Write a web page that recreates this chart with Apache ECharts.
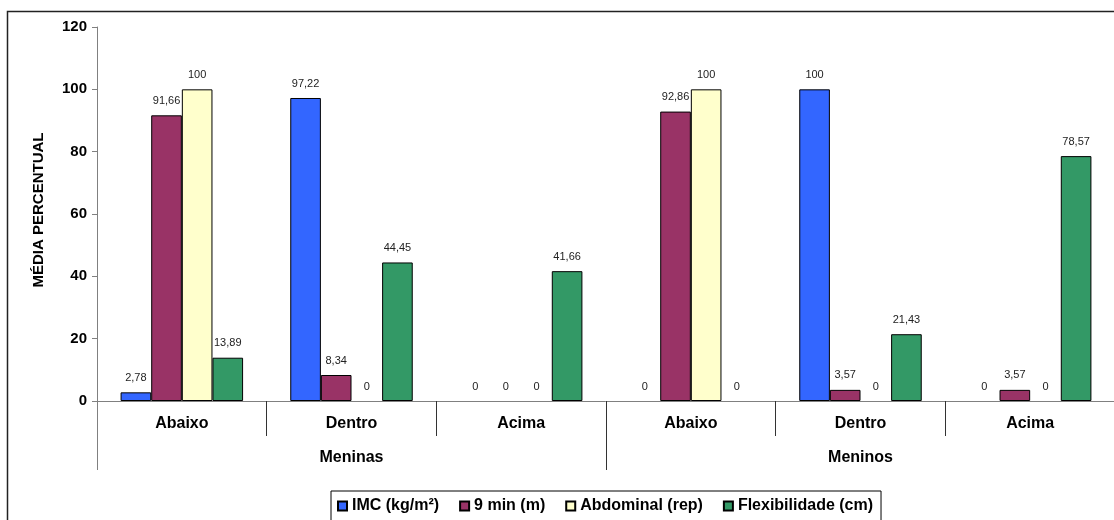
<!DOCTYPE html>
<html>
<head>
<meta charset="utf-8">
<script src="https://cdn.jsdelivr.net/npm/echarts@6/dist/echarts.min.js"></script>
<style>
  html, body { margin: 0; padding: 0; background: #fff; }
  #chart { width: 1114px; height: 520px; }
</style>
</head>
<body>
<div id="chart"></div>
<script>
// Classification categories (inner level) and sex groups (outer level)
const categories = ['Abaixo', 'Dentro', 'Acima', 'Abaixo', 'Dentro', 'Acima'];
const groups = ['Meninas', 'Meninos'];

// Percentage of students in each classification, per test
const imc = [2.78, 97.22, 0, 0, 100, 0];
const nineMin = [91.66, 8.34, 0, 92.86, 3.57, 3.57];
const abdominal = [100, 0, 0, 100, 0, 0];
const flexibilidade = [13.89, 44.45, 41.66, 0, 21.43, 78.57];

const seriesNames = ['IMC (kg/m²)', '9 min (m)', 'Abdominal (rep)', 'Flexibilidade (cm)'];
const seriesColors = ['#3366FF', '#993366', '#FFFFCC', '#339966'];
const yTicks = [0, 20, 40, 60, 80, 100, 120];
const yTitle = 'MÉDIA PERCENTUAL';

const FONT = 'Liberation Sans, Arial, sans-serif';

// zero-height bars get no outline so the axis line stays clean
function toData(values) {
  return values.map(v => v === 0 ? { value: 0, itemStyle: { borderWidth: 0 } } : v);
}

function barSeries(name, values, color) {
  return {
    name: name,
    type: 'bar',
    xAxisIndex: 0,
    data: toData(values),
    barGap: '0%',
    barCategoryGap: '27.8%',
    itemStyle: { color: color, borderColor: '#000', borderWidth: 1 },
    label: {
      show: true,
      position: 'top',
      distance: 9,
      fontFamily: FONT,
      fontSize: 11,
      color: '#222',
      formatter: p => String(p.value).replace('.', ',')
    }
  };
}

const chart = echarts.init(document.getElementById('chart'), null, { renderer: 'canvas' });

chart.setOption({
  animation: false,
  backgroundColor: '#fff',
  grid: { left: 97, top: 27, width: 1018, height: 374, containLabel: false, outerBoundsMode: 'none' },
  legend: {
    data: seriesNames,
    left: 331,
    top: 491,
    icon: 'rect',
    itemWidth: 9,
    itemHeight: 9,
    itemGap: 20,
    padding: [6, 8, 14, 6],
    borderColor: '#000',
    borderWidth: 1,
    textStyle: { fontFamily: FONT, fontSize: 16, fontWeight: 'bold', color: '#000', lineHeight: 18 }
  },
  xAxis: [
    {
      type: 'category',
      position: 'bottom',
      data: categories,
      axisLine: { show: true, lineStyle: { color: '#808080', width: 1 } },
      axisTick: { show: true, interval: 0, length: 35, alignWithLabel: false, lineStyle: { color: '#333' } },
      axisLabel: { interval: 0, margin: 15, fontFamily: FONT, fontSize: 16, fontWeight: 'bold', color: '#000' },
      splitLine: { show: false }
    },
    {
      type: 'category',
      position: 'bottom',
      data: groups,
      axisLine: { show: false },
      axisTick: { show: true, interval: 0, length: 69, alignWithLabel: false, lineStyle: { color: '#333' } },
      axisLabel: { interval: 0, margin: 49, fontFamily: FONT, fontSize: 16, fontWeight: 'bold', color: '#000' },
      splitLine: { show: false }
    },
    {
      // extends the value axis line down through the category rows
      type: 'category',
      position: 'bottom',
      z: 5,
      data: [''],
      axisLine: { show: false },
      axisTick: { show: true, length: 69, alignWithLabel: false, lineStyle: { color: '#808080' } },
      axisLabel: { show: false },
      splitLine: { show: false }
    }
  ],
  yAxis: {
    type: 'value',
    min: yTicks[0],
    max: yTicks[yTicks.length - 1],
    interval: yTicks[1] - yTicks[0],
    axisLine: { show: true, lineStyle: { color: '#808080', width: 1 } },
    axisTick: { show: true, length: 5, lineStyle: { color: '#808080' } },
    axisLabel: { margin: 10, fontFamily: FONT, fontSize: 15, fontWeight: 'bold', color: '#000' },
    splitLine: { show: false }
  },
  graphic: [
    {
      type: 'rect',
      silent: true,
      shape: { x: 7.5, y: 11.5, width: 1200, height: 600 },
      style: { fill: null, stroke: '#222', lineWidth: 1.5 }
    },
    {
      type: 'text',
      silent: true,
      x: 39,
      y: 210,
      rotation: Math.PI / 2,
      style: {
        text: yTitle,
        fontFamily: FONT,
        fontSize: 15,
        fontWeight: 'bold',
        fill: '#000',
        align: 'center',
        verticalAlign: 'middle'
      }
    }
  ],
  series: [
    barSeries(seriesNames[0], imc, seriesColors[0]),
    barSeries(seriesNames[1], nineMin, seriesColors[1]),
    barSeries(seriesNames[2], abdominal, seriesColors[2]),
    barSeries(seriesNames[3], flexibilidade, seriesColors[3])
  ]
});
</script>
</body>
</html>
